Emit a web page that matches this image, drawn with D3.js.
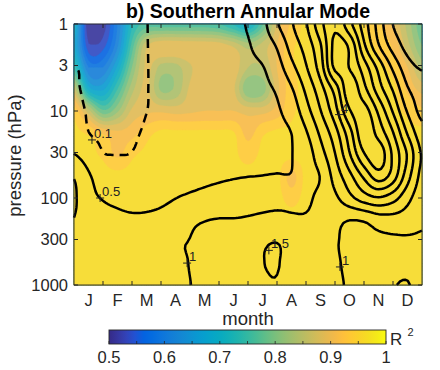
<!DOCTYPE html>
<html><head><meta charset="utf-8">
<script src="https://cdn.jsdelivr.net/npm/d3@7"></script>
<style>
body{margin:0;background:#fff;}
text{font-family:"Liberation Sans",Arial,Helvetica,sans-serif;fill:#262626;}
</style>
</head><body>
<svg id="chart" width="440" height="370"></svg>
<script>
// ---------------- DATA ----------------
const monthLabels = ["J","F","M","A","M","J","J","A","S","O","N","D"];
const pressureTicks = [1, 3, 10, 30, 100, 300, 1000];
const colorbarLabels = [0.5, 0.6, 0.7, 0.8, 0.9, 1];
const colorbarMinorTicks = [0.55, 0.65, 0.75, 0.85, 0.95];
// grid nodes (month position, 0 = start of Jan, 12 = end of Dec) and pressure (hPa)
const gridMonths = [0,0.5,1,1.5,2,2.5,3,3.5,4,4.5,5,5.5,6,6.5,7,7.5,8,8.5,9,9.5,10,10.5,11,11.5,12];
const gridPressures = [1,1.778,3.162,5.623,10,17.78,31.62,56.23,100,177.8,316.2,562.3,1000];

// shaded field: R^2, one row per pressure level
const r2_1    = [0.70,0.50,0.51,0.60,0.72,0.76,0.76,0.76,0.76,0.76,0.75,0.72,0.69,0.77,0.88,0.93,0.955,0.955,0.955,0.955,0.95,0.93,0.90,0.84,0.78];
const r2_1_8  = [0.68,0.53,0.54,0.62,0.76,0.87,0.895,0.895,0.895,0.895,0.89,0.87,0.84,0.86,0.90,0.945,0.955,0.955,0.955,0.955,0.955,0.945,0.92,0.86,0.80];
const r2_3_2  = [0.74,0.60,0.60,0.68,0.80,0.88,0.84,0.84,0.87,0.895,0.895,0.89,0.85,0.85,0.90,0.945,0.955,0.955,0.955,0.955,0.955,0.955,0.94,0.90,0.84];
const r2_5_6  = [0.86,0.69,0.67,0.75,0.84,0.88,0.82,0.83,0.88,0.895,0.895,0.88,0.80,0.81,0.89,0.94,0.955,0.955,0.955,0.955,0.955,0.955,0.955,0.92,0.89];
const r2_10   = [0.94,0.86,0.78,0.82,0.88,0.895,0.895,0.89,0.895,0.90,0.90,0.90,0.89,0.89,0.91,0.945,0.955,0.955,0.955,0.955,0.955,0.955,0.955,0.945,0.93];
const r2_18   = [0.955,0.945,0.92,0.905,0.915,0.94,0.955,0.955,0.955,0.955,0.955,0.952,0.915,0.945,0.955,0.955,0.955,0.955,0.955,0.955,0.955,0.955,0.955,0.955,0.955];
const r2_32   = [0.958,0.955,0.945,0.92,0.945,0.955,0.958,0.958,0.958,0.958,0.958,0.955,0.94,0.955,0.958,0.958,0.958,0.958,0.958,0.958,0.958,0.958,0.958,0.958,0.958];
const r2_56   = [0.958,0.958,0.958,0.958,0.958,0.958,0.958,0.958,0.958,0.958,0.958,0.958,0.958,0.958,0.958,0.915,0.958,0.958,0.958,0.958,0.958,0.958,0.958,0.958,0.958];
const r2_100  = [0.958,0.958,0.958,0.958,0.958,0.958,0.958,0.958,0.958,0.958,0.958,0.958,0.958,0.958,0.958,0.94,0.958,0.958,0.958,0.958,0.958,0.958,0.958,0.958,0.958];
const r2_178  = [0.96,0.96,0.96,0.96,0.96,0.96,0.96,0.96,0.96,0.96,0.96,0.96,0.96,0.96,0.96,0.96,0.96,0.96,0.96,0.96,0.96,0.96,0.96,0.96,0.96];
const r2_316  = [0.96,0.96,0.96,0.96,0.96,0.96,0.96,0.96,0.96,0.96,0.96,0.96,0.96,0.96,0.96,0.96,0.96,0.96,0.96,0.96,0.96,0.96,0.96,0.96,0.96];
const r2_562  = [0.96,0.96,0.96,0.96,0.96,0.96,0.96,0.96,0.96,0.96,0.96,0.96,0.96,0.96,0.96,0.96,0.96,0.96,0.96,0.96,0.96,0.96,0.96,0.96,0.96];
const r2_1000 = [0.96,0.96,0.96,0.96,0.96,0.96,0.96,0.96,0.96,0.96,0.96,0.96,0.96,0.96,0.96,0.96,0.96,0.96,0.96,0.96,0.96,0.96,0.96,0.96,0.96];

// contoured field (black lines), one row per pressure level
const amp_1    = [0.02,0.02,0.03,0.05,0.07,0.095,0.18,0.25,0.33,0.40,0.46,0.47,0.53,0.85,1.45,1.95,2.45,3.35,3.90,3.15,2.25,1.30,0.49,0.30,0.15];
const amp_1_8  = [0.05,0.04,0.04,0.05,0.07,0.095,0.16,0.23,0.30,0.36,0.42,0.45,0.47,0.70,1.05,1.70,2.20,2.95,4.15,3.90,2.60,1.55,0.80,0.35,0.20];
const amp_3_2  = [0.102,0.08,0.06,0.05,0.06,0.095,0.14,0.20,0.26,0.30,0.34,0.38,0.42,0.48,0.78,1.35,1.95,2.75,4.10,3.98,3.25,2.35,1.40,0.70,0.45];
const amp_5_6  = [0.12,0.07,0.06,0.05,0.06,0.095,0.14,0.20,0.25,0.30,0.34,0.37,0.40,0.44,0.55,0.95,1.60,2.30,3.20,4.30,3.65,2.75,1.95,1.05,0.80];
const amp_10   = [0.18,0.08,0.06,0.05,0.06,0.098,0.15,0.22,0.28,0.32,0.36,0.39,0.42,0.44,0.46,0.70,1.30,1.98,2.80,3.95,4.20,3.40,2.45,1.45,0.85];
const amp_18   = [0.35,0.105,0.07,0.06,0.07,0.13,0.20,0.26,0.31,0.35,0.38,0.41,0.43,0.45,0.46,0.505,0.95,1.60,2.30,3.30,4.35,3.80,3.02,1.95,1.20];
const amp_32   = [0.51,0.30,0.115,0.098,0.11,0.20,0.28,0.33,0.37,0.40,0.42,0.44,0.45,0.46,0.47,0.49,0.75,1.30,1.98,2.95,3.95,4.30,3.40,2.45,1.45];
const amp_56   = [0.97,0.55,0.35,0.25,0.25,0.30,0.35,0.39,0.42,0.44,0.46,0.48,0.495,0.505,0.52,0.53,0.85,1.02,1.70,2.35,3.10,3.75,3.25,2.20,1.35];
const amp_100  = [1.06,0.62,0.48,0.42,0.40,0.41,0.44,0.495,0.55,0.60,0.65,0.70,0.75,0.80,0.85,0.88,0.92,1.12,1.40,1.85,2.25,2.45,2.20,1.65,1.20];
const amp_178  = [0.99,0.72,0.64,0.58,0.55,0.56,0.60,0.70,0.90,0.98,1.02,1.02,1.05,1.10,1.12,1.06,1.05,1.12,1.10,1.01,1.05,1.25,1.30,1.25,1.08];
const amp_316  = [0.85,0.70,0.68,0.70,0.73,0.78,0.84,0.96,1.01,1.12,1.20,1.28,1.33,1.44,1.49,1.35,1.25,1.15,1.03,0.93,0.90,0.90,0.92,0.93,0.93];
const amp_562  = [0.80,0.72,0.72,0.74,0.76,0.80,0.85,0.93,1.01,1.10,1.20,1.30,1.38,1.49,1.52,1.35,1.25,1.15,1.05,0.93,0.88,0.87,0.90,0.92,0.88];
const amp_1000 = [0.75,0.74,0.75,0.77,0.80,0.84,0.88,0.94,0.995,1.08,1.18,1.25,1.32,1.44,1.48,1.32,1.22,1.15,1.07,0.96,0.90,0.92,0.985,1.015,0.88];

const contourLevels = [0.1, 0.5, 1, 1.5, 2, 2.5, 3, 3.5, 4];
const dashedLevels = [0.1];
const contourLabels = [
  {text:"0.1", month:0.62, p:21.5},
  {text:"0.5", month:0.90, p:100},
  {text:"1",   month:3.90, p:560},
  {text:"1.5", month:6.72, p:400},
  {text:"4",   month:9.14, p:11},
  {text:"1",   month:9.17, p:620}
];

// ---------------- RENDER ----------------
const PL = 74, PR = 422, PT = 24, PB = 285;
const x = d3.scaleLinear().domain([0, 12]).range([PL, PR]);
const y = d3.scaleLog().domain([1, 1000]).range([PT, PB]);
const svg = d3.select("#chart");

const r2Grid = [r2_1,r2_1_8,r2_3_2,r2_5_6,r2_10,r2_18,r2_32,r2_56,r2_100,r2_178,r2_316,r2_562,r2_1000];
const ampGrid = [amp_1,amp_1_8,amp_3_2,amp_5_6,amp_10,amp_18,amp_32,amp_56,amp_100,amp_178,amp_316,amp_562,amp_1000];

const K = 6;
const nx = gridMonths.length, ny = gridPressures.length;
const NX = (nx - 1) * K + 1, NY = (ny - 1) * K + 1;
const logP = gridPressures.map(Math.log10);

function cr(p0, p1, p2, p3, t) {
  const t2 = t * t, t3 = t2 * t;
  return 0.5 * ((2 * p1) + (-p0 + p2) * t + (2 * p0 - 5 * p1 + 4 * p2 - p3) * t2 + (-p0 + 3 * p1 - 3 * p2 + p3) * t3);
}
// smooth (clamped Catmull-Rom) resampling of a grid for drawing
function resample(grid) {
  const g = (j, i) => grid[Math.max(0, Math.min(ny - 1, j))][Math.max(0, Math.min(nx - 1, i))];
  const out = new Float64Array(NX * NY);
  for (let J = 0; J < NY; J++) {
    const fy = J / K, j = Math.min(Math.floor(fy), ny - 2), ty = fy - j;
    for (let I = 0; I < NX; I++) {
      const fx = I / K, i = Math.min(Math.floor(fx), nx - 2), tx = fx - i;
      const r = [-1, 0, 1, 2].map(d => cr(g(j + d, i - 1), g(j + d, i), g(j + d, i + 1), g(j + d, i + 2), tx));
      let v = cr(r[0], r[1], r[2], r[3], ty);
      const c = [g(j, i), g(j, i + 1), g(j + 1, i), g(j + 1, i + 1)];
      v = Math.max(Math.min(...c), Math.min(Math.max(...c), v));
      out[J * NX + I] = v;
    }
  }
  return out;
}
function gxToPx(gx) {
  gx = Math.max(0, Math.min(NX - 1, gx));
  const f = gx / K, i = Math.min(Math.floor(f), nx - 2), t = f - i;
  return x(gridMonths[i] + (gridMonths[i + 1] - gridMonths[i]) * t);
}
function gyToPx(gy) {
  gy = Math.max(0, Math.min(NY - 1, gy));
  const f = gy / K, j = Math.min(Math.floor(f), ny - 2), t = f - j;
  return y(Math.pow(10, logP[j] + (logP[j + 1] - logP[j]) * t));
}
const proj = d3.geoTransform({ point(px, py) { this.stream.point(gxToPx(px - 0.5), gyToPx(py - 0.5)); } });
const geo = d3.geoPath(proj);

// parula colormap
const parulaStops = [
[0.2081,0.1663,0.5292],[0.2116,0.1898,0.5777],[0.2123,0.2138,0.6270],[0.2081,0.2386,0.6771],
[0.1959,0.2645,0.7279],[0.1707,0.2919,0.7792],[0.1253,0.3242,0.8303],[0.0591,0.3598,0.8683],
[0.0117,0.3875,0.8820],[0.0060,0.4086,0.8828],[0.0165,0.4266,0.8786],[0.0329,0.4430,0.8720],
[0.0498,0.4586,0.8641],[0.0629,0.4737,0.8554],[0.0723,0.4887,0.8467],[0.0779,0.5040,0.8384],
[0.0793,0.5200,0.8312],[0.0749,0.5375,0.8263],[0.0641,0.5570,0.8240],[0.0488,0.5772,0.8228],
[0.0343,0.5966,0.8199],[0.0265,0.6137,0.8135],[0.0239,0.6287,0.8038],[0.0231,0.6418,0.7913],
[0.0228,0.6535,0.7768],[0.0267,0.6642,0.7607],[0.0384,0.6743,0.7436],[0.0590,0.6838,0.7254],
[0.0843,0.6928,0.7062],[0.1133,0.7015,0.6859],[0.1453,0.7098,0.6646],[0.1801,0.7177,0.6424],
[0.2178,0.7250,0.6193],[0.2586,0.7317,0.5954],[0.3022,0.7376,0.5712],[0.3482,0.7424,0.5473],
[0.3953,0.7459,0.5244],[0.4420,0.7481,0.5033],[0.4871,0.7491,0.4840],[0.5300,0.7491,0.4661],
[0.5709,0.7485,0.4494],[0.6099,0.7473,0.4337],[0.6473,0.7456,0.4188],[0.6834,0.7435,0.4044],
[0.7184,0.7411,0.3905],[0.7525,0.7384,0.3768],[0.7858,0.7356,0.3633],[0.8185,0.7327,0.3498],
[0.8507,0.7299,0.3360],[0.8824,0.7274,0.3217],[0.9139,0.7258,0.3063],[0.9450,0.7261,0.2886],
[0.9739,0.7314,0.2666],[0.9938,0.7455,0.2403],[0.9990,0.7653,0.2164],[0.9955,0.7861,0.1967],
[0.9880,0.8066,0.1794],[0.9789,0.8271,0.1633],[0.9697,0.8481,0.1475],[0.9626,0.8705,0.1309],
[0.9589,0.8949,0.1132],[0.9598,0.9218,0.0948],[0.9661,0.9514,0.0755],[0.9763,0.9831,0.0538]];
function parula(t) {
  t = Math.max(0, Math.min(1, t));
  const f = t * (parulaStops.length - 1), i = Math.min(Math.floor(f), parulaStops.length - 2), u = f - i;
  const a = parulaStops[i], b = parulaStops[i + 1];
  const c = [0, 1, 2].map(k => Math.round(255 * (a[k] + (b[k] - a[k]) * u)));
  return `rgb(${c[0]},${c[1]},${c[2]})`;
}
const cScale = d3.scaleLinear().domain([0.5, 1]).range([0, 1]);

// filled contours
const step = 0.025;
const fillThresholds = d3.range(20).map(i => +(0.5 + i * step).toFixed(4));
const r2Fine = resample(r2Grid);
const fills = d3.contours().size([NX, NY]).thresholds(fillThresholds)(r2Fine);
svg.append("g").attr("opacity", 0.9).selectAll("path").data(fills).join("path")
  .attr("d", geo)
  .attr("fill", d => parula(cScale(d.value + step / 2)))
  .attr("stroke", d => parula(cScale(d.value + step / 2)))
  .attr("stroke-width", 0.3);

// contour lines
const ampFine = resample(ampGrid);
const iso = d3.contours().size([NX, NY]).thresholds(contourLevels)(ampFine);
function ringToLines(ring) {
  const eps = 1e-6;
  const pts = ring.map(([cx, cy]) => {
    const gx = Math.max(0, Math.min(NX - 1, cx - 0.5)), gy = Math.max(0, Math.min(NY - 1, cy - 0.5));
    return { gx, gy, b: gx <= eps || gx >= NX - 1 - eps || gy <= eps || gy >= NY - 1 - eps };
  });
  const lines = []; let cur = [];
  let firstDrawn = false, lastDrawn = false;
  for (let i = 0; i < pts.length - 1; i++) {
    const a = pts[i], b = pts[i + 1];
    if (a.b && b.b) { if (cur.length > 1) lines.push(cur); cur = []; continue; }
    if (i === 0) firstDrawn = true;
    if (i === pts.length - 2) lastDrawn = true;
    if (cur.length === 0) cur.push(a);
    cur.push(b);
  }
  if (cur.length > 1) lines.push(cur);
  if (lines.length > 1 && firstDrawn && lastDrawn) {
    const last = lines.pop();
    lines[0] = last.concat(lines[0].slice(1));
  }
  return lines.map(l => l.map(p => [gxToPx(p.gx), gyToPx(p.gy)]));
}
const lineGen = d3.line();
const gLines = svg.append("g");
iso.forEach(c => {
  const dashed = dashedLevels.includes(c.value);
  c.coordinates.forEach(poly => poly.forEach(ring => {
    ringToLines(ring).forEach(l => {
      gLines.append("path").attr("d", lineGen(l)).attr("fill", "none")
        .attr("stroke", "#000").attr("stroke-width", 2.5)
        .attr("stroke-linejoin", "round")
        .attr("stroke-dasharray", dashed ? "9,6" : null);
    });
  }));
});

// contour labels
const gLab = svg.append("g");
contourLabels.forEach(d => {
  const px = x(d.month), py = y(d.p);
  gLab.append("path").attr("d", `M${px - 4},${py}H${px + 4}M${px},${py - 4}V${py + 4}`)
    .attr("stroke", "#222").attr("stroke-width", 1);
  gLab.append("text").attr("x", px + 2).attr("y", py - 2).attr("font-size", 13)
    .style("fill", "#222").text(d.text);
});

// axes box and ticks
const ax = svg.append("g");
ax.append("rect").attr("x", PL).attr("y", PT).attr("width", PR - PL).attr("height", PB - PT)
  .attr("fill", "none").attr("stroke", "#262626").attr("stroke-width", 0.9);
const tl = 4;
pressureTicks.forEach(p => {
  ax.append("line").attr("x1", PL).attr("x2", PL + tl).attr("y1", y(p)).attr("y2", y(p)).attr("stroke", "#262626");
  ax.append("line").attr("x1", PR).attr("x2", PR - tl).attr("y1", y(p)).attr("y2", y(p)).attr("stroke", "#262626");
  ax.append("text").attr("x", PL - 6).attr("y", y(p)).attr("dy", "0.36em")
    .attr("text-anchor", "end").attr("font-size", 16.5).text(p);
});
d3.range(1, 12).forEach(m => {
  ax.append("line").attr("x1", x(m)).attr("x2", x(m)).attr("y1", PB).attr("y2", PB - tl).attr("stroke", "#262626");
  ax.append("line").attr("x1", x(m)).attr("x2", x(m)).attr("y1", PT).attr("y2", PT + tl).attr("stroke", "#262626");
});
monthLabels.forEach((lab, i) => {
  ax.append("text").attr("x", x(i + 0.5)).attr("y", 306).attr("text-anchor", "middle")
    .attr("font-size", 16.5).text(lab);
});

// titles
svg.append("text").attr("x", (PL + PR) / 2).attr("y", 18).attr("text-anchor", "middle")
  .attr("font-size", 19.5).attr("font-weight", "bold").style("fill", "#000").text("b) Southern Annular Mode");
svg.append("text").attr("x", (PL + PR) / 2).attr("y", 325).attr("text-anchor", "middle")
  .attr("font-size", 18.5).text("month");
svg.append("text").attr("transform", `translate(21,${(PT + PB) / 2 + 1}) rotate(-90)`)
  .attr("text-anchor", "middle").attr("font-size", 18.5).text("pressure (hPa)");

// colorbar
const cbX0 = 109, cbX1 = 386, cbY = 330, cbH = 14;
const cbx = d3.scaleLinear().domain([0.5, 1]).range([cbX0, cbX1]);
const defs = svg.append("defs");
const grad = defs.append("linearGradient").attr("id", "cbgrad").attr("x1", "0%").attr("x2", "100%").attr("y1", "0%").attr("y2", "0%");
d3.range(0, 1.0001, 1 / 32).forEach(t => grad.append("stop").attr("offset", `${t * 100}%`).attr("stop-color", parula(t)));
svg.append("rect").attr("x", cbX0).attr("y", cbY).attr("width", cbX1 - cbX0).attr("height", cbH)
  .attr("fill", "url(#cbgrad)").attr("stroke", "#262626").attr("stroke-width", 0.9);
colorbarLabels.concat(colorbarMinorTicks).forEach(v => {
  svg.append("line").attr("x1", cbx(v)).attr("x2", cbx(v)).attr("y1", cbY + cbH).attr("y2", cbY + cbH - 3)
    .attr("stroke", "#262626").attr("stroke-width", 0.8);
});
colorbarLabels.forEach(v => {
  svg.append("text").attr("x", cbx(v)).attr("y", 363).attr("text-anchor", "middle")
    .attr("font-size", 16.5).text(v);
});
svg.append("text").attr("x", 390).attr("y", 345).attr("font-size", 17).text("R");
svg.append("text").attr("x", 407.5).attr("y", 336).attr("font-size", 11).text("2");
</script>
</body></html>
